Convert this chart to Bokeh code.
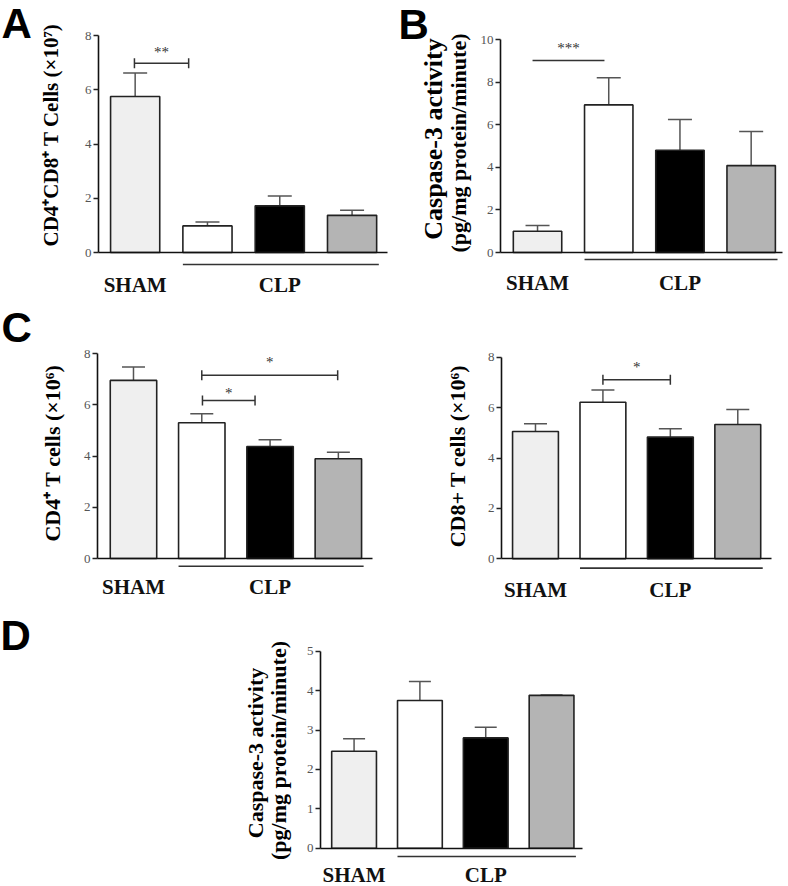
import math
from bokeh.plotting import figure
from bokeh.layouts import column, row
from bokeh.models import Range1d, FixedTicker, Whisker, TeeHead, ColumnDataSource
from bokeh.core.properties import value
from bokeh.embed import file_html
from bokeh.resources import INLINE

# ---------------- data ----------------
x_pos = [1, 2, 3, 4]
group_names = ["SHAM", "CLP"]

a_mean = [5.75, 0.98, 1.72, 1.37]
a_err = [0.87, 0.14, 0.36, 0.19]
b_mean = [1.00, 6.93, 4.80, 4.08]
b_err = [0.27, 1.27, 1.44, 1.60]
c4_mean = [6.95, 5.30, 4.37, 3.89]
c4_err = [0.52, 0.35, 0.26, 0.26]
c8_mean = [5.05, 6.21, 4.83, 5.33]
c8_err = [0.31, 0.49, 0.33, 0.59]
d_mean = [2.46, 3.75, 2.80, 3.88]
d_err = [0.32, 0.48, 0.27, 0.01]

a_ticks = [0, 2, 4, 6, 8]
b_ticks = [0, 2, 4, 6, 8, 10]
c_ticks = [0, 2, 4, 6, 8]
d_ticks = [0, 1, 2, 3, 4, 5]

a_ylabel = ["CD4\u207aCD8\u207a T Cells (\u00d710\u2077)"]
b_ylabel = ["Caspase-3 activity", "(pg/mg protein/minute)"]
c4_ylabel = ["CD4\u207a T cells (\u00d710\u2076)"]
c8_ylabel = ["CD8+ T cells (\u00d710\u2076)"]
d_ylabel = ["Caspase-3 activity", "(pg/mg protein/minute)"]

# significance: (x_from, x_to, bar_y, label, label_y, end_ticks)
a_sig = [(0.99, 1.74, 6.98, "**", 7.52, True)]
b_sig = [(0.93, 1.94, 9.01, "***", 9.72, False)]
c4_sig = [(2.01, 2.78, 6.17, "*", 6.56, True), (2.0, 3.99, 7.15, "*", 7.77, True)]
c8_sig = [(2.0, 3.0, 7.11, "*", 7.75, True)]
d_sig = []

FILLS = ["#efefef", "#ffffff", "#000000", "#b4b4b4"]
SERIF = "Liberation Serif"
SANS = "Liberation Sans"


def make_panel(w, h, fl, fr, ft, base_px, xr, y_top, ticks, means, errs,
               ylabels, ylabel_style, letter, letter_style,
               under_y, name_y, sigs, cap):
    # pixel <-> data mapping of the plotting area
    sx = (fr - fl) / (xr[1] - xr[0])
    sy = (base_px - ft) / y_top

    def dx(px):
        return xr[0] + (px - fl) / sx

    def dy(py):
        return (base_px - py) / sy

    p = figure(width=w, height=h, x_range=Range1d(dx(0), dx(w)),
               y_range=Range1d(dy(h), dy(0)), toolbar_location=None,
               output_backend="svg", min_border_left=0, min_border_right=0,
               min_border_top=0, min_border_bottom=0)
    p.grid.visible = False
    p.outline_line_color = None
    p.background_fill_color = "white"
    p.border_fill_color = "white"

    # y axis (fixed at the left edge of the bars area)
    ya = p.yaxis[0]
    ya.fixed_location = xr[0]
    ya.ticker = FixedTicker(ticks=ticks)
    ya.bounds = (0, y_top)
    ya.axis_line_color = "#111111"
    ya.axis_line_width = 1.6
    ya.major_tick_out = 5
    ya.major_tick_in = 0
    ya.minor_tick_out = 0
    ya.minor_tick_in = 0
    ya.major_tick_line_color = "#222222"
    ya.major_tick_line_width = 1.3
    ya.major_label_text_font = SERIF
    ya.major_label_text_font_size = "13px"
    ya.major_label_text_color = "#555555"
    ya.major_label_standoff = 2

    # x axis as baseline at zero
    xa = p.xaxis[0]
    xa.fixed_location = 0
    xa.bounds = (xr[0], xr[1])
    xa.ticker = FixedTicker(ticks=[])
    xa.axis_line_color = "#111111"
    xa.axis_line_width = 1.6
    xa.major_tick_out = 0
    xa.major_tick_in = 0
    xa.minor_tick_out = 0
    xa.minor_tick_in = 0
    xa.major_label_text_font_size = "0px"

    src = ColumnDataSource(dict(x=x_pos, top=means,
                                upper=[m + e for m, e in zip(means, errs)], fill=FILLS))
    p.add_layout(Whisker(base="x", lower="top", upper="upper", source=src, dimension="height",
                         line_color="#555555", line_width=1.5,
                         upper_head=TeeHead(size=cap, line_color="#555555", line_width=1.5),
                         lower_head=None))
    p.vbar(x="x", top="top", bottom=0, width=0.68, source=src, fill_color="fill",
           line_color="#222222", line_width=1.6)

    # group underline and names
    p.segment(x0=[1.66], x1=[4.37], y0=[under_y], y1=[under_y],
              line_color="#333333", line_width=1.6)
    p.text(x=[1, 3], y=[name_y, name_y], text=group_names, text_font=value(SERIF),
           text_font_style="bold", text_font_size="21px", text_color="#111111",
           text_align="center", text_baseline="middle")

    # significance brackets
    tick_h = 5.0 / sy
    for (x0, x1, yb, lab, ly, ends) in sigs:
        p.segment(x0=[x0], x1=[x1], y0=[yb], y1=[yb], line_color="#333333", line_width=1.5)
        if ends:
            p.segment(x0=[x0, x1], x1=[x0, x1], y0=[yb - tick_h] * 2, y1=[yb + tick_h] * 2,
                      line_color="#333333", line_width=1.5)
        p.text(x=[(x0 + x1) / 2], y=[ly], text=[lab], text_font=value(SERIF),
               text_font_size="15px", text_color="#333333", text_align="center",
               text_baseline="middle", y_offset=3)

    # y axis title (rotated), one glyph per line
    for txt, (size, cx, cy) in zip(ylabels, ylabel_style):
        p.text(x=[dx(cx)], y=[dy(cy)], text=[txt], angle=math.pi / 2,
               text_font=value(SERIF), text_font_style="bold", text_font_size=size,
               text_color="#000000", text_align="center", text_baseline="middle")

    # panel letter
    if letter:
        lx, ly, lsize = letter_style
        p.text(x=[dx(lx)], y=[dy(ly)], text=[letter], text_font=value(SANS),
               text_font_style="bold", text_font_size=lsize, text_color="#000000",
               text_align="left", text_baseline="middle")
    return p


pA = make_panel(390, 300, 98, 387, 35, 252, (0.493, 4.49), 8, a_ticks, a_mean, a_err,
                a_ylabel, [("21px", 50, 134.5)],
                "A", (1, 23, "42px"), -0.44, -1.20, a_sig, 24)
pB = make_panel(398, 300, 110, 392, 39, 252, (0.48, 4.44), 10, b_ticks, b_mean, b_err,
                b_ylabel, [("26px", 43, 138.5), ("22px", 68, 142.5)],
                "B", (8, 24, "42px"), -0.33, -1.44, b_sig, 24)
pC4 = make_panel(390, 310, 97, 372, 53, 258, (0.473, 4.50), 8, c_ticks, c4_mean, c4_err,
                 c4_ylabel, [("22px", 52, 152.5)],
                 "C", (1, 27, "42px"), -0.30, -1.12, c4_sig, 23)
pC8 = make_panel(398, 310, 111, 381, 56.7, 258.3, (0.496, 4.50), 8, c_ticks, c8_mean, c8_err,
                 c8_ylabel, [("22px", 67, 155.5)],
                 "", None, -0.37, -1.25, c8_sig, 23)
pD = make_panel(788, 276, 320, 582, 40.7, 237.7, (0.49, 4.47), 5, d_ticks, d_mean, d_err,
                d_ylabel, [("22px", 255, 142.5), ("22px", 278, 140)],
                "D", (0, 25, "42px"), -0.21, -0.68, d_sig, 22)

layout = column(row(pA, pB), row(pC4, pC8), pD)
open("out.html", "w").write(file_html(layout, INLINE))
